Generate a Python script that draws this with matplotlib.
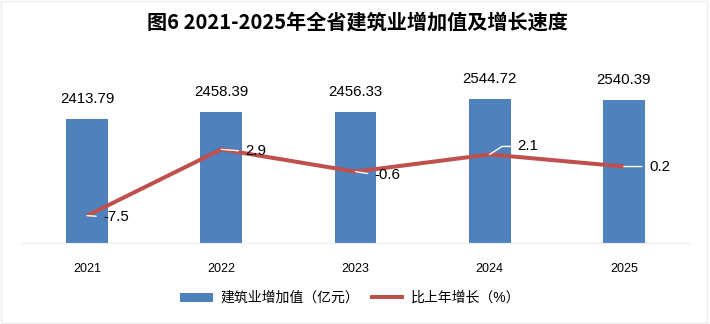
import numpy as np
import matplotlib
matplotlib.use('Agg')
import matplotlib.pyplot as plt

plt.rcParams['font.family'] = ['Liberation Sans', 'Noto Sans CJK SC']

# --- DATA ---
years = ['2021', '2022', '2023', '2024', '2025']
added_value = [2413.79, 2458.39, 2456.33, 2544.72, 2540.39]   # 亿元
growth = [-7.5, 2.9, -0.6, 2.1, 0.2]                          # %

BAR_COLOR = '#4F81BD'
LINE_COLOR = '#C0504D'

# label offsets (pixels) for the growth labels
growth_offsets = [(16, -1), (24, -2), (19, -3), (28, 8), (25, 0)]


def main():
    fig = plt.figure(figsize=(7.1, 3.24), dpi=100)
    ax = fig.add_axes([20 / 710, 1 - 243.3 / 324, 671 / 710, 183.3 / 324])
    ax2 = ax.twinx()

    x = np.arange(len(years))
    ax.bar(x, added_value, width=0.31, color=BAR_COLOR, zorder=2,
           label='建筑业增加值（亿元）')
    ax.set_xlim(-0.5, len(years) - 0.5)
    ax.set_ylim(1600, 2800)

    for xi, v in zip(x, added_value):
        ax.annotate(f'{v:.2f}', (xi, v), xytext=(0, 20), textcoords='offset pixels',
                    ha='center', va='center', fontsize=10.8, color='black')

    ax2.plot(x, growth, color=LINE_COLOR, lw=2.9, solid_capstyle='butt',
             solid_joinstyle='miter', zorder=3, label='比上年增长（%）')
    ax2.set_ylim(-11.83, -11.83 + 183.3 / 6.38)

    for xi, g, (dx, dy) in zip(x, growth, growth_offsets):
        conn = 'angle,angleA=0,angleB=33' if dy > 4 else 'arc3'
        ax2.annotate(f'{g:g}', (xi, g), xytext=(dx, dy), textcoords='offset pixels',
                     ha='left', va='center', fontsize=10.8, color='black',
                     arrowprops=dict(arrowstyle='-', color='white', lw=1.0,
                                     shrinkA=3, shrinkB=0, relpos=(0, 0.5),
                                     connectionstyle=conn))

    for a in (ax, ax2):
        for s in a.spines.values():
            s.set_visible(False)
        a.set_yticks([])
    ax.spines['bottom'].set_visible(True)
    ax.spines['bottom'].set_color('#F0F0F0')
    ax.set_xticks(x)
    ax.set_xticklabels(years, fontsize=9)
    ax.tick_params(axis='x', length=0, pad=14)
    ax2.set_zorder(ax.get_zorder() + 1)
    ax2.patch.set_visible(False)

    fig.text(357 / 710, 1 - 22 / 324, '图6 2021-2025年全省建筑业增加值及增长速度',
             ha='center', va='center', fontsize=14.5, fontweight='bold',
             family=['Noto Sans CJK SC'])

    h1, l1 = ax.get_legend_handles_labels()
    h2, l2 = ax2.get_legend_handles_labels()
    fig.legend(h1 + h2, l1 + l2, loc='center', bbox_to_anchor=(350 / 710, 26 / 324),
               ncol=2, frameon=False, fontsize=10, handlelength=2.4,
               handleheight=0.6, handletextpad=0.5, columnspacing=0.8)

    # faint outer border like the source image
    fig.patches.append(plt.Rectangle((0.002, 0.004), 0.994, 0.992, transform=fig.transFigure,
                                     fill=False, edgecolor='#EEEEEE', lw=1))

    fig.savefig('out.png', dpi=100)


if __name__ == '__main__':
    main()
